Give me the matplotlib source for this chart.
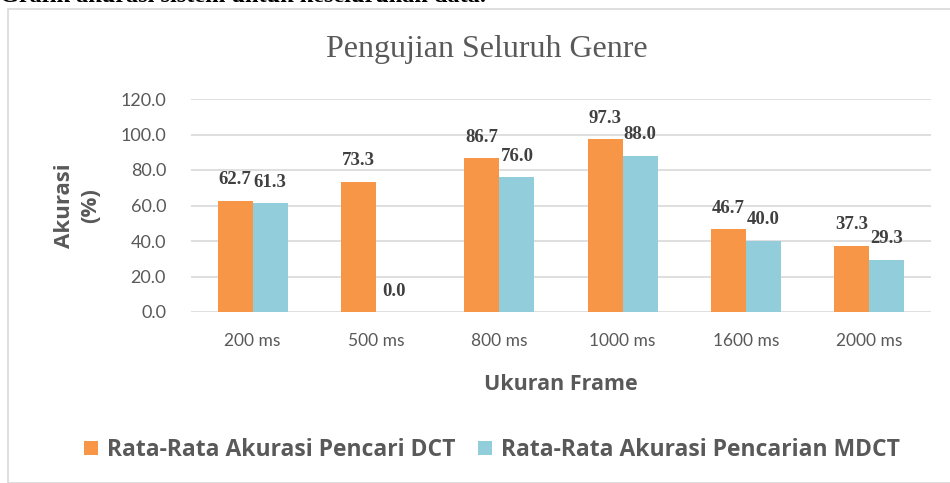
import numpy as np
import matplotlib.pyplot as plt
from matplotlib.patches import Rectangle

frames = ['200 ms', '500 ms', '800 ms', '1000 ms', '1600 ms', '2000 ms']
dct = [62.7, 73.3, 86.7, 97.3, 46.7, 37.3]
mdct = [61.3, 0.0, 76.0, 88.0, 40.0, 29.3]
series_names = ['Rata-Rata Akurasi Pencari DCT', 'Rata-Rata Akurasi Pencarian MDCT']
yticks = [0, 20, 40, 60, 80, 100, 120]

orange = '#F79646'
blue = '#92CDDC'
gray = '#595959'

fig = plt.figure(figsize=(9.5, 4.83), dpi=100)

# chart frame and caption cut off at the top
fig.patches.append(Rectangle((8 / 950, 0), 1.0, 1 - 9 / 483, transform=fig.transFigure,
                             fill=False, edgecolor='#D9D9D9', linewidth=1.2))
fig.text(0.0, 1 - 1.5 / 483, 'Grafik akurasi sistem untuk keseluruhan data.',
         family='Liberation Serif', fontweight='bold', fontsize=17.5, va='baseline', ha='left')

ax = fig.add_axes([191 / 950, 1 - 312 / 483, 740 / 950, 213 / 483])

x = np.arange(len(frames))
w = 0.285
b1 = ax.bar(x - w / 2, dct, w, color=orange, label=series_names[0])
b2 = ax.bar(x + w / 2, mdct, w, color=blue, label=series_names[1])

for bars, vals in ((b1, dct), (b2, mdct)):
    for rect, v in zip(bars, vals):
        ax.annotate(f'{v:.1f}', (rect.get_x() + rect.get_width() / 2, v),
                    xytext=(0, 9), textcoords='offset points', ha='center', va='bottom',
                    family='Liberation Serif', fontweight='bold', fontsize=13.5, color='#404040')

ax.set_xlim(-0.5, len(frames) - 0.5)
ax.set_ylim(0, 120)
ax.set_yticks(yticks)
ax.set_yticklabels([f'{t:.1f}' for t in yticks], family='Lato', fontsize=13, color=gray)
ax.set_xticks(x)
ax.set_xticklabels(frames, family='Lato', fontsize=12.5, color=gray)
ax.tick_params(length=0, pad=18)
ax.tick_params(axis='x', pad=15)
ax.grid(axis='y', color='#D9D9D9', linewidth=1.2)
ax.set_axisbelow(True)
for s in ax.spines.values():
    s.set_visible(False)

ax.set_ylabel('Akurasi\n(%)', family='Open Sans', fontweight='bold', fontsize=16, color=gray,
              linespacing=1.3, labelpad=14)
ax.set_xlabel('Ukuran Frame', family='Open Sans', fontweight='bold', fontsize=15.5, color=gray,
              labelpad=18)

fig.text(487 / 950, 1 - 49 / 483, 'Pengujian Seluruh Genre', family='Liberation Serif',
         fontsize=23, color=gray, ha='center', va='center')

fig.legend(handles=[b1, b2], loc='center', bbox_to_anchor=(492 / 950, 1 - 450 / 483),
           ncol=2, frameon=False, prop={'family': 'Open Sans', 'weight': 'bold', 'size': 16.5},
           labelcolor=gray, handlelength=0.6, handleheight=0.6, handletextpad=0.4,
           columnspacing=1.0)

fig.savefig('out.png', dpi=100)
